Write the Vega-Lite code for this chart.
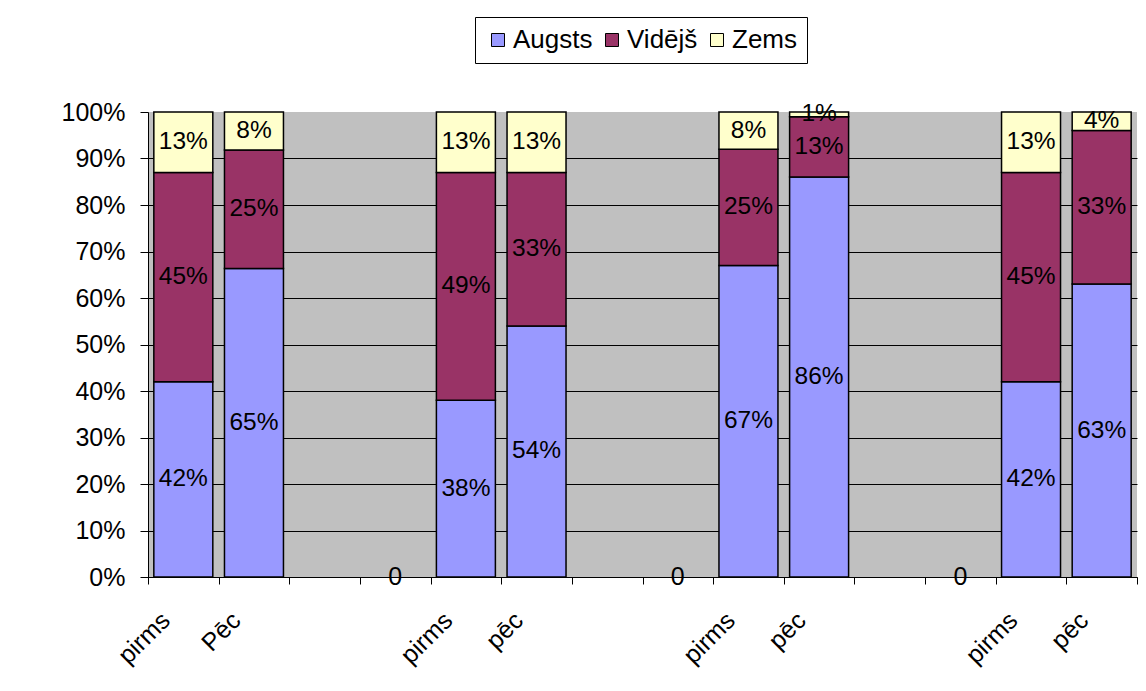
{
  "$schema": "https://vega.github.io/schema/vega-lite/v6.json",
  "autosize": {"type": "none"},
  "padding": {"left": 148, "top": 112, "right": 9, "bottom": 114},
  "width": 989,
  "height": 465,
  "background": "white",
  "config": {
    "view": {"fill": "#C0C0C0", "stroke": null},
    "font": "Liberation Sans"
  },
  "datasets": {
    "bars": [
      {"pos": 1, "series": "Augsts", "v": 0.42},
      {"pos": 1, "series": "Vidējš", "v": 0.45},
      {"pos": 1, "series": "Zems", "v": 0.13},
      {"pos": 2, "series": "Augsts", "v": 0.65},
      {"pos": 2, "series": "Vidējš", "v": 0.25},
      {"pos": 2, "series": "Zems", "v": 0.08},
      {"pos": 5, "series": "Augsts", "v": 0.38},
      {"pos": 5, "series": "Vidējš", "v": 0.49},
      {"pos": 5, "series": "Zems", "v": 0.13},
      {"pos": 6, "series": "Augsts", "v": 0.54},
      {"pos": 6, "series": "Vidējš", "v": 0.33},
      {"pos": 6, "series": "Zems", "v": 0.13},
      {"pos": 9, "series": "Augsts", "v": 0.67},
      {"pos": 9, "series": "Vidējš", "v": 0.25},
      {"pos": 9, "series": "Zems", "v": 0.08},
      {"pos": 10, "series": "Augsts", "v": 0.86},
      {"pos": 10, "series": "Vidējš", "v": 0.13},
      {"pos": 10, "series": "Zems", "v": 0.01},
      {"pos": 13, "series": "Augsts", "v": 0.42},
      {"pos": 13, "series": "Vidējš", "v": 0.45},
      {"pos": 13, "series": "Zems", "v": 0.13},
      {"pos": 14, "series": "Augsts", "v": 0.63},
      {"pos": 14, "series": "Vidējš", "v": 0.33},
      {"pos": 14, "series": "Zems", "v": 0.04}
    ],
    "zeros": [
      {"pos": 4, "v": 0},
      {"pos": 8, "v": 0},
      {"pos": 12, "v": 0}
    ]
  },
  "encoding": {
    "x": {
      "field": "pos",
      "type": "ordinal",
      "scale": {"domain": [1,2,3,4,5,6,7,8,9,10,11,12,13,14], "paddingInner": 0, "paddingOuter": 0},
      "axis": {
        "title": null,
        "tickBand": "extent",
        "domainColor": "black",
        "tickColor": "black",
        "tickSize": 7,
        "labelExpr": "['','pirms','Pēc','','','pirms','pēc','','','pirms','pēc','','','pirms','pēc'][datum.value]",
        "labelAngle": -45,
        "labelAlign": "right",
        "labelBaseline": "middle",
        "labelOffset": -18,
        "labelPadding": 32,
        "labelFontSize": 25,
        "labelColor": "black",
        "labelFont": "Liberation Sans",
        "grid": false
      }
    }
  },
  "layer": [
    {
      "data": {"name": "bars"},
      "transform": [
        {"stack": "v", "groupby": ["pos"], "sort": [{"field": "series", "order": "ascending"}], "offset": "normalize", "as": ["y0", "y1"]}
      ],
      "mark": {"type": "bar", "stroke": "black", "strokeWidth": 1.5, "width": {"band": 0.835}},
      "encoding": {
        "y": {
          "field": "y0",
          "type": "quantitative",
          "scale": {"domain": [0, 1], "nice": false},
          "axis": {
            "title": null,
            "format": ".0%",
            "values": [0, 0.1, 0.2, 0.3, 0.4, 0.5, 0.6, 0.7, 0.8, 0.9, 1],
            "domainColor": "black",
            "tickColor": "black",
            "tickSize": 8,
            "labelFontSize": 25,
            "labelFont": "Liberation Sans",
            "labelColor": "black",
            "labelPadding": 15,
            "gridColor": {"condition": {"test": "datum.value >= 1", "value": "transparent"}, "value": "black"},
            "gridWidth": 1
          }
        },
        "y2": {"field": "y1"},
        "color": {
          "field": "series",
          "type": "nominal",
          "scale": {"domain": ["Augsts", "Vidējš", "Zems"], "range": ["#9999FF", "#993366", "#FFFFCC"]},
          "legend": {
            "title": null,
            "orient": "none",
            "direction": "horizontal",
            "legendX": 327,
            "legendY": -95,
            "padding": 10,
            "strokeColor": "black",
            "fillColor": "white",
            "symbolType": "square",
            "symbolSize": 169,
            "symbolStrokeColor": "black",
            "symbolStrokeWidth": 1,
            "symbolOpacity": 1,
            "labelFontSize": 26,
            "labelFont": "Liberation Sans",
            "labelColor": "black",
            "labelOffset": 2,
            "columnPadding": 6
          }
        }
      }
    },
    {
      "data": {"name": "bars"},
      "transform": [
        {"stack": "v", "groupby": ["pos"], "sort": [{"field": "series", "order": "ascending"}], "offset": "normalize", "as": ["y0", "y1"]},
        {"calculate": "(datum.y0 + datum.y1) / 2", "as": "mid"}
      ],
      "mark": {"type": "text", "fontSize": 24.5, "font": "Liberation Sans", "color": "black", "baseline": "middle"},
      "encoding": {
        "y": {"field": "mid", "type": "quantitative"},
        "text": {"field": "v", "type": "quantitative", "format": ".0%"}
      }
    },
    {
      "data": {"name": "zeros"},
      "mark": {"type": "text", "fontSize": 25, "font": "Liberation Sans", "color": "black", "baseline": "middle"},
      "encoding": {
        "y": {"field": "v", "type": "quantitative"},
        "text": {"field": "v", "type": "quantitative", "format": "d"}
      }
    }
  ]
}
